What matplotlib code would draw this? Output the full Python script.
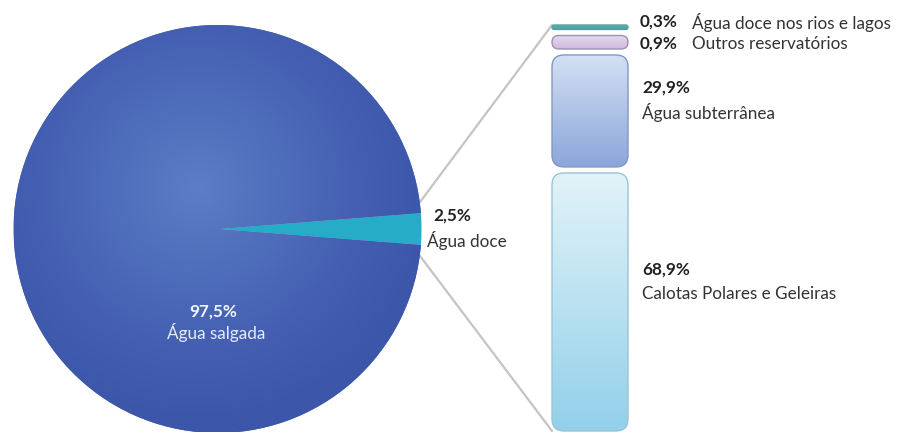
import numpy as np
import matplotlib.pyplot as plt
from matplotlib.patches import FancyBboxPatch, ConnectionPatch
from matplotlib.colors import LinearSegmentedColormap

plt.rcParams['font.family'] = ['Lato', 'DejaVu Sans']

# Data
pie_labels = ["Água doce", "Água salgada"]
pie_values = [2.5, 97.5]
pie_pct = ["2,5%", "97,5%"]

bar_labels = ["Água doce nos rios e lagos", "Outros reservatórios",
              "Água subterrânea", "Calotas Polares e Geleiras"]
bar_values = np.array([0.3, 0.9, 29.9, 68.9])
bar_pct = ["0,3%", "0,9%", "29,9%", "68,9%"]

# colours (top, bottom) for each stack segment
seg_colors = [("#5fb3b3", "#4e9fa3"), ("#e6d8ef", "#cfbcdd"),
              ("#d3e0f4", "#8ba6da"), ("#e2f3f8", "#93d0ea")]
seg_edges = ["#5c9fa3", "#9d91b3", "#8397c2", "#9cc3d6"]

fs = 12.3

fig = plt.figure(figsize=(8.99, 4.32), dpi=100)
ax = fig.add_axes([0, 0, 1, 1])

# Pie
cx, cy, r = 217.5, 229, 204
wedges, _ = ax.pie(pie_values, center=(cx, cy), radius=r, startangle=-pie_values[0] * 1.8,
                   colors=["#26acc7", "#4663b3"], wedgeprops=dict(linewidth=0))

# radial shading on the salt water wedge
yy, xx = np.mgrid[-1:1:300j, -1:1:300j]
dist = np.sqrt((xx + 0.1) ** 2 + (yy + 0.2) ** 2)
shade = LinearSegmentedColormap.from_list("shade", ["#5d7dc6", "#4f6fbc", "#4560b2", "#3c56aa"])
img = ax.imshow(dist, cmap=shade, vmin=0, vmax=1.15,
                extent=(cx - r, cx + r, cy + r, cy - r), interpolation="bilinear", zorder=1.5)
img.set_clip_path(wedges[1])

ax.set_xlim(0, 899)
ax.set_ylim(432, 0)
ax.set_aspect("auto")
ax.axis("off")

ax.text(213, 312, pie_pct[1], color="#f2f5fb", fontsize=fs, fontweight="bold",
        ha="center", va="center", zorder=3)
ax.text(216, 333, pie_labels[1], color="#e6ecf7", fontsize=fs,
        ha="center", va="center", zorder=3)
ax.text(452, 216, pie_pct[0], color="#222222", fontsize=fs, fontweight="bold",
        ha="center", va="center")
ax.text(427, 240, pie_labels[0], color="#333333", fontsize=fs, ha="left", va="center")

# Stacked bar (small parts zoomed 4x for visibility)
heights = np.where(bar_values < 1, bar_values * 4, bar_values)
gap = 1.6
tops = np.concatenate([[0], np.cumsum(heights + gap)[:-1]])
total = heights.sum() + gap * (len(heights) - 1)

bx0, by_top, bw, bh = 552, 25, 76, 406
bax = fig.add_axes([bx0 / 899, 1 - (by_top + bh) / 432, bw / 899, bh / 432])
W = bw * total / bh
bax.axis("off")
rs = 12 * total / bh

for top, h, (c1, c2), ec in zip(tops, heights, seg_colors, seg_edges):
    box = FancyBboxPatch((0, top), W, h,
                         boxstyle=f"round,pad=0,rounding_size={min(rs, h / 2)}",
                         facecolor="none", edgecolor=ec, linewidth=1, clip_on=False, zorder=2)
    bax.add_patch(box)
    grad = np.linspace(0, 1, 100).reshape(-1, 1)
    cm = LinearSegmentedColormap.from_list("g", [c1, c2])
    gi = bax.imshow(grad, cmap=cm, extent=(0, W, top + h, top), aspect="auto",
                    interpolation="bilinear", zorder=1.8)
    gi.set_clip_path(box)
bax.set_xlim(0, W)
bax.set_ylim(total, 0)

# Connection lines from the fresh water wedge to the bar
spread = 7.5
for ang, yb in [(-spread, 0), (spread, total)]:
    p = (cx + r * np.cos(np.radians(ang)), cy + r * np.sin(np.radians(ang)))
    con = ConnectionPatch(xyA=p, coordsA=ax.transData, xyB=(0, yb), coordsB=bax.transData,
                          color="#c4c4c4", linewidth=1.6, zorder=0.5)
    ax.add_artist(con)

# Bar labels
ax.text(640, 22, bar_pct[0], fontsize=fs, fontweight="bold", color="#222222", va="center")
ax.text(692, 22, bar_labels[0], fontsize=fs, color="#333333", va="center")
ax.text(640, 44, bar_pct[1], fontsize=fs, fontweight="bold", color="#222222", va="center")
ax.text(692, 44, bar_labels[1], fontsize=fs, color="#333333", va="center")
ax.text(642, 88, bar_pct[2], fontsize=fs, fontweight="bold", color="#222222", va="center")
ax.text(642, 112, bar_labels[2], fontsize=fs, color="#333333", va="center")
ax.text(642, 270, bar_pct[3], fontsize=fs, fontweight="bold", color="#222222", va="center")
ax.text(642, 294, bar_labels[3], fontsize=fs, color="#333333", va="center")

fig.savefig("out.png", dpi=100)
